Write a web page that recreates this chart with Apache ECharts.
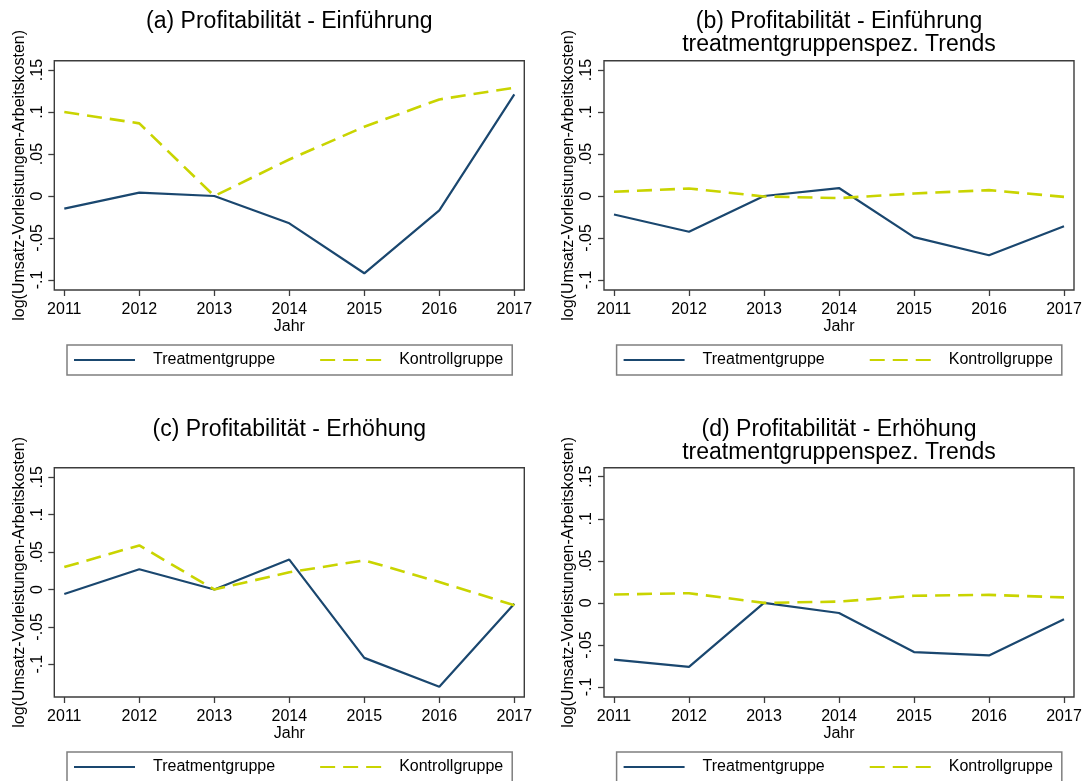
<!DOCTYPE html>
<html>
<head>
<meta charset="utf-8">
<title>Profitabilität</title>
<script src="https://cdn.jsdelivr.net/npm/echarts@6/dist/echarts.min.js"></script>
<style>
    html, body { margin: 0; padding: 0; background: #fff; }
    #chart { width: 1086px; height: 781px; }
</style>
</head>
<body>
<div id="chart"></div>
<script>
// Data
const years = [2011, 2012, 2013, 2014, 2015, 2016, 2017];
const yTicks = [-0.1, -0.05, 0, 0.05, 0.1, 0.15];
const seriesNames = ['Treatmentgruppe', 'Kontrollgruppe'];

const titles = [
    '(a) Profitabilität - Einführung',
    '(b) Profitabilität - Einführung\ntreatmentgruppenspez. Trends',
    '(c) Profitabilität - Erhöhung',
    '(d) Profitabilität - Erhöhung\ntreatmentgruppenspez. Trends'
];

const treatA = [-0.015, 0.004, 0, -0.0325, -0.092, -0.017, 0.121];
const ctrlA  = [0.100, 0.0865, 0, 0.0435, 0.0825, 0.115, 0.129];
const treatB = [-0.022, -0.0425, 0, 0.0095, -0.049, -0.0705, -0.036];
const ctrlB  = [0.005, 0.009, -0.0005, -0.0025, 0.003, 0.007, -0.001];
const treatC = [-0.006, 0.027, 0, 0.040, -0.0915, -0.130, -0.019];
const ctrlC  = [0.030, 0.059, 0, 0.023, 0.039, 0.010, -0.021];
const treatD = [-0.0675, -0.076, 0, -0.012, -0.0585, -0.0625, -0.0195];
const ctrlD  = [0.010, 0.0115, 0, 0.0015, 0.0085, 0.0095, 0.0065];

const treatData = [treatA, treatB, treatC, treatD];
const ctrlData = [ctrlA, ctrlB, ctrlC, ctrlD];

const FONT = '"Liberation Sans", Arial, sans-serif';
const BLUE = '#1a476f';
const LIME = '#c9d400';
const FRAME = '#3c3c3c';

// layout of each panel (grid box, title, legend)
const panels = [
    { left: 54.3, top: 60.7,  titleTop: 10.2,  legendLeft: 67,    legendTop: 345, yMin: -0.1119, yMax: 0.1611 },
    { left: 604,  top: 60.7,  titleTop: 10.2,  legendLeft: 616.6, legendTop: 345, yMin: -0.1119, yMax: 0.1611 },
    { left: 54.3, top: 467.7, titleTop: 417.8, legendLeft: 67,    legendTop: 752, yMin: -0.1438, yMax: 0.1629 },
    { left: 604,  top: 467.7, titleTop: 417.8, legendLeft: 616.6, legendTop: 752, yMin: -0.1119, yMax: 0.1607 }
];
const GRID_W = 470;
const GRID_H = 229.3;

function tickLabel(v) {
    if (Math.abs(v) < 1e-9) return '0';
    return String(+v.toFixed(3)).replace('0.', '.');
}

function pairs(values) {
    return years.map((y, i) => [y, values[i]]);
}

const grid = [], xAxis = [], yAxis = [], series = [], title = [], legend = [];

panels.forEach((p, i) => {
    grid.push({
        left: p.left, top: p.top, width: GRID_W, height: GRID_H,
        show: true, borderColor: FRAME, borderWidth: 1.4, backgroundColor: '#fff',
        containLabel: false, outerBoundsMode: 'none'
    });

    xAxis.push({
        gridIndex: i, type: 'value', position: 'bottom',
        min: 2010.8667, max: 2017.1333,
        name: 'Jahr', nameLocation: 'middle', nameGap: 26,
        nameTextStyle: { fontFamily: FONT, fontSize: 16, color: '#000' },
        axisLine: { show: false, onZero: false },
        axisTick: { show: true, length: 6, customValues: years, lineStyle: { color: FRAME, width: 1.3 } },
        axisLabel: { customValues: years, formatter: v => String(v), margin: 12,
            fontFamily: FONT, fontSize: 16, color: '#000' },
        splitLine: { show: false }
    });

    yAxis.push({
        gridIndex: i, type: 'value', position: 'left',
        min: p.yMin, max: p.yMax,
        name: 'log(Umsatz-Vorleistungen-Arbeitskosten)', nameLocation: 'middle', nameGap: 27,
        nameTextStyle: { fontFamily: FONT, fontSize: 16, color: '#000' },
        axisLine: { show: false, onZero: false },
        axisTick: { show: true, length: 6, customValues: yTicks, lineStyle: { color: FRAME, width: 1.3 } },
        axisLabel: { customValues: yTicks, formatter: tickLabel, rotate: 90, margin: 9,
            fontFamily: FONT, fontSize: 16, color: '#000' },
        splitLine: { show: false }
    });

    series.push({
        name: seriesNames[0], type: 'line',
        xAxisIndex: i, yAxisIndex: i,
        data: pairs(treatData[i]),
        symbol: 'none', color: BLUE,
        lineStyle: { color: BLUE, width: 2.2 }
    });
    series.push({
        name: seriesNames[1], type: 'line',
        xAxisIndex: i, yAxisIndex: i,
        data: pairs(ctrlData[i]),
        symbol: 'none', color: LIME,
        lineStyle: { color: LIME, width: 2.6, type: [15, 8] }
    });

    title.push({
        text: titles[i],
        left: p.left + GRID_W / 2, top: p.titleTop,
        textAlign: 'center', padding: 0,
        textStyle: { fontFamily: FONT, fontSize: 23, lineHeight: 23, fontWeight: 'normal', color: '#000' }
    });

    legend.push({
        data: seriesNames,
        left: p.legendLeft, top: p.legendTop,
        orient: 'horizontal',
        itemWidth: 61, itemHeight: 16, itemGap: 44,
        padding: [7, 9, 7, 6],
        borderColor: '#7f7f7f', borderWidth: 1.5,
        selectedMode: false,
        itemStyle: { opacity: 0 },
        textStyle: { fontFamily: FONT, fontSize: 16, color: '#000', padding: [0, 0, 0, 13] }
    });
});

const chart = echarts.init(document.getElementById('chart'), null, { renderer: 'canvas' });
chart.setOption({
    backgroundColor: '#fff',
    animation: false,
    title: title,
    legend: legend,
    grid: grid,
    xAxis: xAxis,
    yAxis: yAxis,
    series: series
});
</script>
</body>
</html>
